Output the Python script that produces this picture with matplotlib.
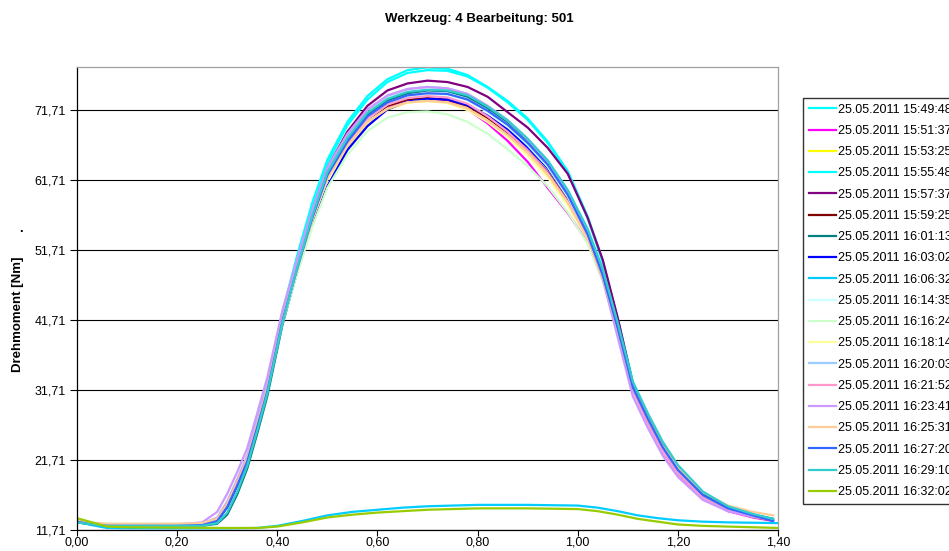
import matplotlib
matplotlib.use("Agg")
import matplotlib.pyplot as plt
from matplotlib.ticker import FixedLocator, FuncFormatter

plt.rcParams['font.family'] = ['Liberation Sans', 'DejaVu Sans']

TITLE = "Werkzeug: 4 Bearbeitung: 501"
YLABEL = "Drehmoment [Nm]"
Y_TICKS = [11.71, 21.71, 31.71, 41.71, 51.71, 61.71, 71.71]
X_TICKS = [0.0, 0.2, 0.4, 0.6, 0.8, 1.0, 1.2, 1.4]

LABELS = ["25.05.2011 15:49:48", "25.05.2011 15:51:37", "25.05.2011 15:53:25",
          "25.05.2011 15:55:48", "25.05.2011 15:57:37", "25.05.2011 15:59:25",
          "25.05.2011 16:01:13", "25.05.2011 16:03:02", "25.05.2011 16:06:32",
          "25.05.2011 16:14:35", "25.05.2011 16:16:24", "25.05.2011 16:18:14",
          "25.05.2011 16:20:03", "25.05.2011 16:21:52", "25.05.2011 16:23:41",
          "25.05.2011 16:25:31", "25.05.2011 16:27:20", "25.05.2011 16:29:10",
          "25.05.2011 16:32:02"]

# x positions (s) of the read values for the machining curves
X_HIGH = [0.00, 0.03, 0.06, 0.10, 0.15, 0.20, 0.25, 0.28, 0.30, 0.32, 0.34, 0.36,
          0.38, 0.41, 0.44, 0.47, 0.50, 0.54, 0.58, 0.62, 0.66, 0.70, 0.74, 0.78,
          0.82, 0.86, 0.90, 0.94, 0.98, 1.02, 1.05, 1.08, 1.11, 1.14, 1.17, 1.20,
          1.25, 1.30, 1.35, 1.39]
# x positions for the two low curves
X_LOW = [0.00, 0.03, 0.06, 0.10, 0.20, 0.30, 0.36, 0.40, 0.45, 0.50, 0.55, 0.60,
         0.65, 0.70, 0.80, 0.90, 1.00, 1.04, 1.08, 1.12, 1.16, 1.20, 1.25, 1.30,
         1.35, 1.40]

s_154948 = [12.8, 12.5, 12.3, 12.3, 12.3, 12.3, 12.4, 13.0, 15.0, 18.3, 21.9, 27.2, 32.6, 42.8, 51.0, 58.5, 64.6, 70.0, 73.7, 76.1, 77.4, 77.8, 77.6, 76.7, 75.0, 73.0, 70.5, 67.2, 63.0, 56.5, 50.2, 41.9, 32.9, 28.2, 23.9, 20.6, 17.0, 15.0, 13.9, 13.3]
s_155137 = [13.1, 12.7, 12.5, 12.5, 12.5, 12.5, 12.6, 13.2, 15.2, 18.3, 21.6, 26.5, 31.6, 41.6, 49.0, 56.0, 61.9, 66.6, 70.0, 72.0, 73.0, 73.3, 73.0, 71.8, 69.8, 67.3, 64.3, 60.6, 57.0, 52.8, 47.5, 40.0, 31.6, 27.0, 22.8, 19.7, 16.2, 14.4, 13.5, 13.0]
s_155325 = [13.0, 12.6, 12.4, 12.4, 12.4, 12.4, 12.5, 13.2, 15.3, 18.5, 21.8, 26.7, 31.8, 41.6, 49.0, 56.0, 61.8, 66.5, 69.9, 71.8, 72.8, 73.0, 72.8, 71.9, 70.2, 68.0, 65.5, 62.4, 58.4, 53.4, 47.6, 40.1, 31.8, 27.3, 23.2, 20.0, 16.5, 14.6, 13.6, 13.1]
s_155548 = [12.9, 12.5, 12.3, 12.3, 12.3, 12.3, 12.4, 13.1, 15.1, 18.2, 21.8, 27.0, 32.4, 42.5, 50.6, 58.0, 64.1, 69.5, 73.2, 75.7, 77.0, 77.4, 77.3, 76.5, 74.9, 72.8, 70.3, 67.0, 62.8, 56.2, 50.0, 41.7, 32.8, 28.1, 23.8, 20.5, 16.9, 14.9, 13.9, 13.2]
s_155737 = [13.0, 12.6, 12.4, 12.4, 12.4, 12.4, 12.5, 13.1, 15.0, 18.2, 21.6, 26.6, 31.8, 41.9, 49.8, 57.2, 63.4, 68.6, 72.3, 74.5, 75.5, 75.9, 75.7, 75.0, 73.6, 71.4, 69.2, 66.3, 62.6, 56.3, 50.3, 42.0, 32.6, 28.0, 23.7, 20.4, 16.7, 14.7, 13.7, 13.1]
s_155925 = [12.9, 12.6, 12.4, 12.4, 12.4, 12.4, 12.5, 13.1, 15.1, 18.3, 21.6, 26.5, 31.6, 41.6, 49.1, 56.2, 62.2, 66.9, 70.3, 72.3, 73.2, 73.4, 73.2, 72.3, 70.6, 68.5, 65.9, 62.8, 58.8, 53.6, 47.8, 40.2, 31.9, 27.4, 23.3, 20.1, 16.5, 14.6, 13.6, 13.1]
s_160113 = [12.8, 12.5, 12.3, 12.3, 12.3, 12.3, 12.3, 12.6, 13.9, 16.8, 20.5, 25.5, 30.8, 40.9, 48.8, 56.2, 62.4, 67.4, 71.1, 73.1, 74.1, 74.5, 74.4, 73.6, 72.0, 70.0, 67.4, 64.3, 60.0, 54.3, 48.5, 40.8, 32.4, 27.9, 23.8, 20.6, 16.9, 14.9, 13.9, 13.3]
s_160302 = [12.9, 12.5, 12.3, 12.3, 12.3, 12.3, 12.4, 13.0, 15.0, 18.1, 21.5, 26.4, 31.5, 41.3, 48.6, 55.4, 60.8, 66.0, 69.4, 71.8, 72.9, 73.3, 73.2, 72.4, 70.9, 68.9, 66.4, 63.4, 59.3, 53.8, 48.0, 40.4, 32.0, 27.5, 23.4, 20.2, 16.6, 14.7, 13.7, 13.1]
s_160632 = [12.9, 12.4, 12.0, 11.95, 11.95, 11.95, 12.0, 12.3, 13.0, 13.8, 14.3, 14.6, 14.9, 15.1, 15.3, 15.3, 15.2, 14.9, 14.4, 13.8, 13.4, 13.1, 12.9, 12.8, 12.75, 12.7]
s_161435 = [13.0, 12.7, 12.5, 12.5, 12.5, 12.5, 12.6, 13.3, 15.4, 18.5, 21.8, 26.7, 31.8, 41.6, 49.0, 56.1, 62.1, 66.9, 70.4, 72.5, 73.6, 74.0, 73.9, 73.1, 71.4, 69.4, 66.7, 63.6, 59.3, 53.7, 47.9, 40.2, 31.9, 27.4, 23.3, 20.1, 16.6, 14.7, 13.7, 13.2]
s_161624 = [13.1, 12.8, 12.6, 12.6, 12.6, 12.6, 12.7, 13.4, 15.5, 18.6, 21.8, 26.6, 31.6, 41.2, 48.4, 55.0, 60.6, 65.3, 68.7, 70.6, 71.4, 71.5, 71.1, 70.0, 68.3, 66.1, 63.7, 60.8, 57.1, 52.6, 47.2, 39.8, 31.5, 27.0, 22.9, 19.8, 16.4, 14.6, 13.7, 13.2]
s_161814 = [13.0, 12.7, 12.5, 12.5, 12.5, 12.5, 12.6, 13.3, 15.5, 18.6, 21.9, 26.8, 31.9, 41.7, 49.1, 56.0, 61.8, 66.6, 70.0, 71.9, 72.8, 73.0, 72.7, 71.7, 70.0, 67.8, 65.2, 62.1, 58.1, 53.2, 47.5, 40.0, 31.7, 27.2, 23.1, 19.9, 16.5, 14.7, 13.7, 13.2]
s_162003 = [13.0, 12.6, 12.4, 12.4, 12.4, 12.4, 12.6, 13.5, 15.8, 19.0, 22.4, 27.4, 32.5, 42.4, 50.0, 57.2, 63.3, 68.2, 71.7, 73.7, 74.7, 75.0, 74.8, 74.0, 72.3, 70.3, 67.6, 64.5, 60.2, 54.4, 48.4, 40.5, 32.0, 27.4, 23.2, 20.0, 16.5, 14.7, 13.7, 13.2]
s_162152 = [13.0, 12.7, 12.5, 12.5, 12.5, 12.5, 12.6, 13.4, 15.6, 18.8, 22.1, 27.0, 32.0, 41.9, 49.3, 56.3, 62.2, 67.0, 70.5, 72.5, 73.4, 73.7, 73.5, 72.6, 70.8, 68.6, 65.9, 62.7, 58.6, 53.4, 47.6, 40.0, 31.6, 27.0, 22.9, 19.8, 16.3, 14.5, 13.6, 13.1]
s_162341 = [13.1, 12.7, 12.5, 12.5, 12.5, 12.5, 12.8, 14.3, 16.9, 20.0, 23.4, 28.4, 33.5, 43.0, 50.5, 57.5, 63.5, 68.3, 71.8, 73.8, 74.7, 75.0, 74.8, 74.0, 72.3, 70.2, 67.5, 64.3, 59.9, 54.0, 47.6, 39.2, 30.8, 26.3, 22.3, 19.3, 16.0, 14.4, 13.6, 13.2]
s_162531 = [13.0, 12.7, 12.6, 12.6, 12.6, 12.6, 12.7, 13.3, 15.4, 18.5, 21.8, 26.7, 31.8, 41.6, 49.0, 56.0, 61.9, 66.6, 70.0, 71.9, 72.8, 73.0, 72.8, 71.9, 70.2, 68.1, 65.6, 62.5, 58.5, 53.5, 47.8, 40.3, 32.1, 27.7, 23.7, 20.6, 17.1, 15.2, 14.3, 13.8]
s_162720 = [12.9, 12.5, 12.3, 12.3, 12.3, 12.3, 12.4, 13.0, 15.0, 18.1, 21.5, 26.4, 31.5, 41.5, 49.1, 56.3, 62.4, 67.2, 70.8, 72.8, 73.8, 74.1, 74.0, 73.2, 71.6, 69.6, 67.0, 63.9, 59.6, 53.9, 48.1, 40.5, 32.1, 27.6, 23.5, 20.3, 16.7, 14.8, 13.8, 13.0]
s_162910 = [12.8, 12.5, 12.3, 12.3, 12.3, 12.3, 12.3, 12.7, 14.2, 17.2, 20.9, 25.9, 31.2, 41.3, 49.2, 56.6, 62.8, 67.7, 71.3, 73.3, 74.3, 74.6, 74.5, 73.8, 72.2, 70.2, 67.6, 64.5, 60.3, 54.7, 49.0, 41.3, 32.9, 28.4, 24.3, 21.0, 17.2, 15.1, 14.0, 13.3]
s_163202 = [13.4, 12.8, 12.2, 12.1, 12.05, 12.0, 12.0, 12.2, 12.8, 13.5, 13.9, 14.2, 14.4, 14.6, 14.8, 14.8, 14.7, 14.4, 13.9, 13.3, 12.9, 12.5, 12.3, 12.2, 12.1, 12.0]

SERIES = [s_154948, s_155137, s_155325, s_155548, s_155737, s_155925, s_160113,
          s_160302, s_160632, s_161435, s_161624, s_161814, s_162003, s_162152,
          s_162341, s_162531, s_162720, s_162910, s_163202]

COLORS = ["#00FFFF", "#FF00FF", "#FFFF00", "#00FFFF", "#800080", "#800000",
          "#008080", "#0000FF", "#00CCFF", "#CCFFFF", "#CCFFCC", "#FFFF99",
          "#99CCFF", "#FF99CC", "#CC99FF", "#FFCC99", "#3366FF", "#33CCCC",
          "#99CC00"]

W, H = 949, 551
fig = plt.figure(figsize=(W / 100, H / 100), dpi=100)
ax = fig.add_axes([77 / W, 1 - 530 / H, (778 - 77) / W, (530 - 67) / H])

for lab, col, ys in zip(LABELS, COLORS, SERIES):
    xs = X_LOW if len(ys) == len(X_LOW) else X_HIGH
    ax.plot(xs, ys, color=col, lw=1.6, label=lab, solid_joinstyle='round')

ax.set_xlim(0, 1.4)
ax.set_ylim(11.71, 77.85)
ax.yaxis.set_major_locator(FixedLocator(Y_TICKS))
ax.xaxis.set_major_locator(FixedLocator(X_TICKS))
fmt = FuncFormatter(lambda v, p: f"{v:.2f}".replace('.', ','))
ax.yaxis.set_major_formatter(fmt)
ax.xaxis.set_major_formatter(fmt)
ax.tick_params(axis='both', direction='out', length=5, width=0.8, labelsize=9,
               colors='black')
ax.tick_params(axis='y', pad=3)
ax.tick_params(axis='x', pad=1, length=4)
ax.grid(axis='y', color='black', lw=0.8)
ax.set_axisbelow(True)
for s in ['left', 'bottom']:
    ax.spines[s].set_color('black')
    ax.spines[s].set_linewidth(0.9)
for s in ['top', 'right']:
    ax.spines[s].set_color('#A0A0A0')
    ax.spines[s].set_linewidth(0.9)

fig.text(479 / W, 1 - 19 / H, TITLE, ha='center', va='center', fontsize=9.5,
         fontweight='bold')
fig.text(18 / W, 1 - 314 / H, YLABEL, ha='center', va='center', rotation=90,
         fontsize=9.5, fontweight='bold')
fig.text(21 / W, 1 - 229 / H, ".", ha='center', va='center', fontsize=9.5,
         fontweight='bold')

leg = fig.legend(loc='upper left', bbox_to_anchor=(803 / W, 1 - 98 / H),
                 bbox_transform=fig.transFigure, fontsize=9, frameon=True,
                 fancybox=False, shadow=False, borderaxespad=0, borderpad=0.45,
                 labelspacing=0.74, handlelength=2.15, handletextpad=0.2)
leg.get_frame().set_edgecolor('black')
leg.get_frame().set_linewidth(1.0)
for l in leg.get_lines():
    l.set_linewidth(1.6)

fig.savefig("out.png", dpi=100)
